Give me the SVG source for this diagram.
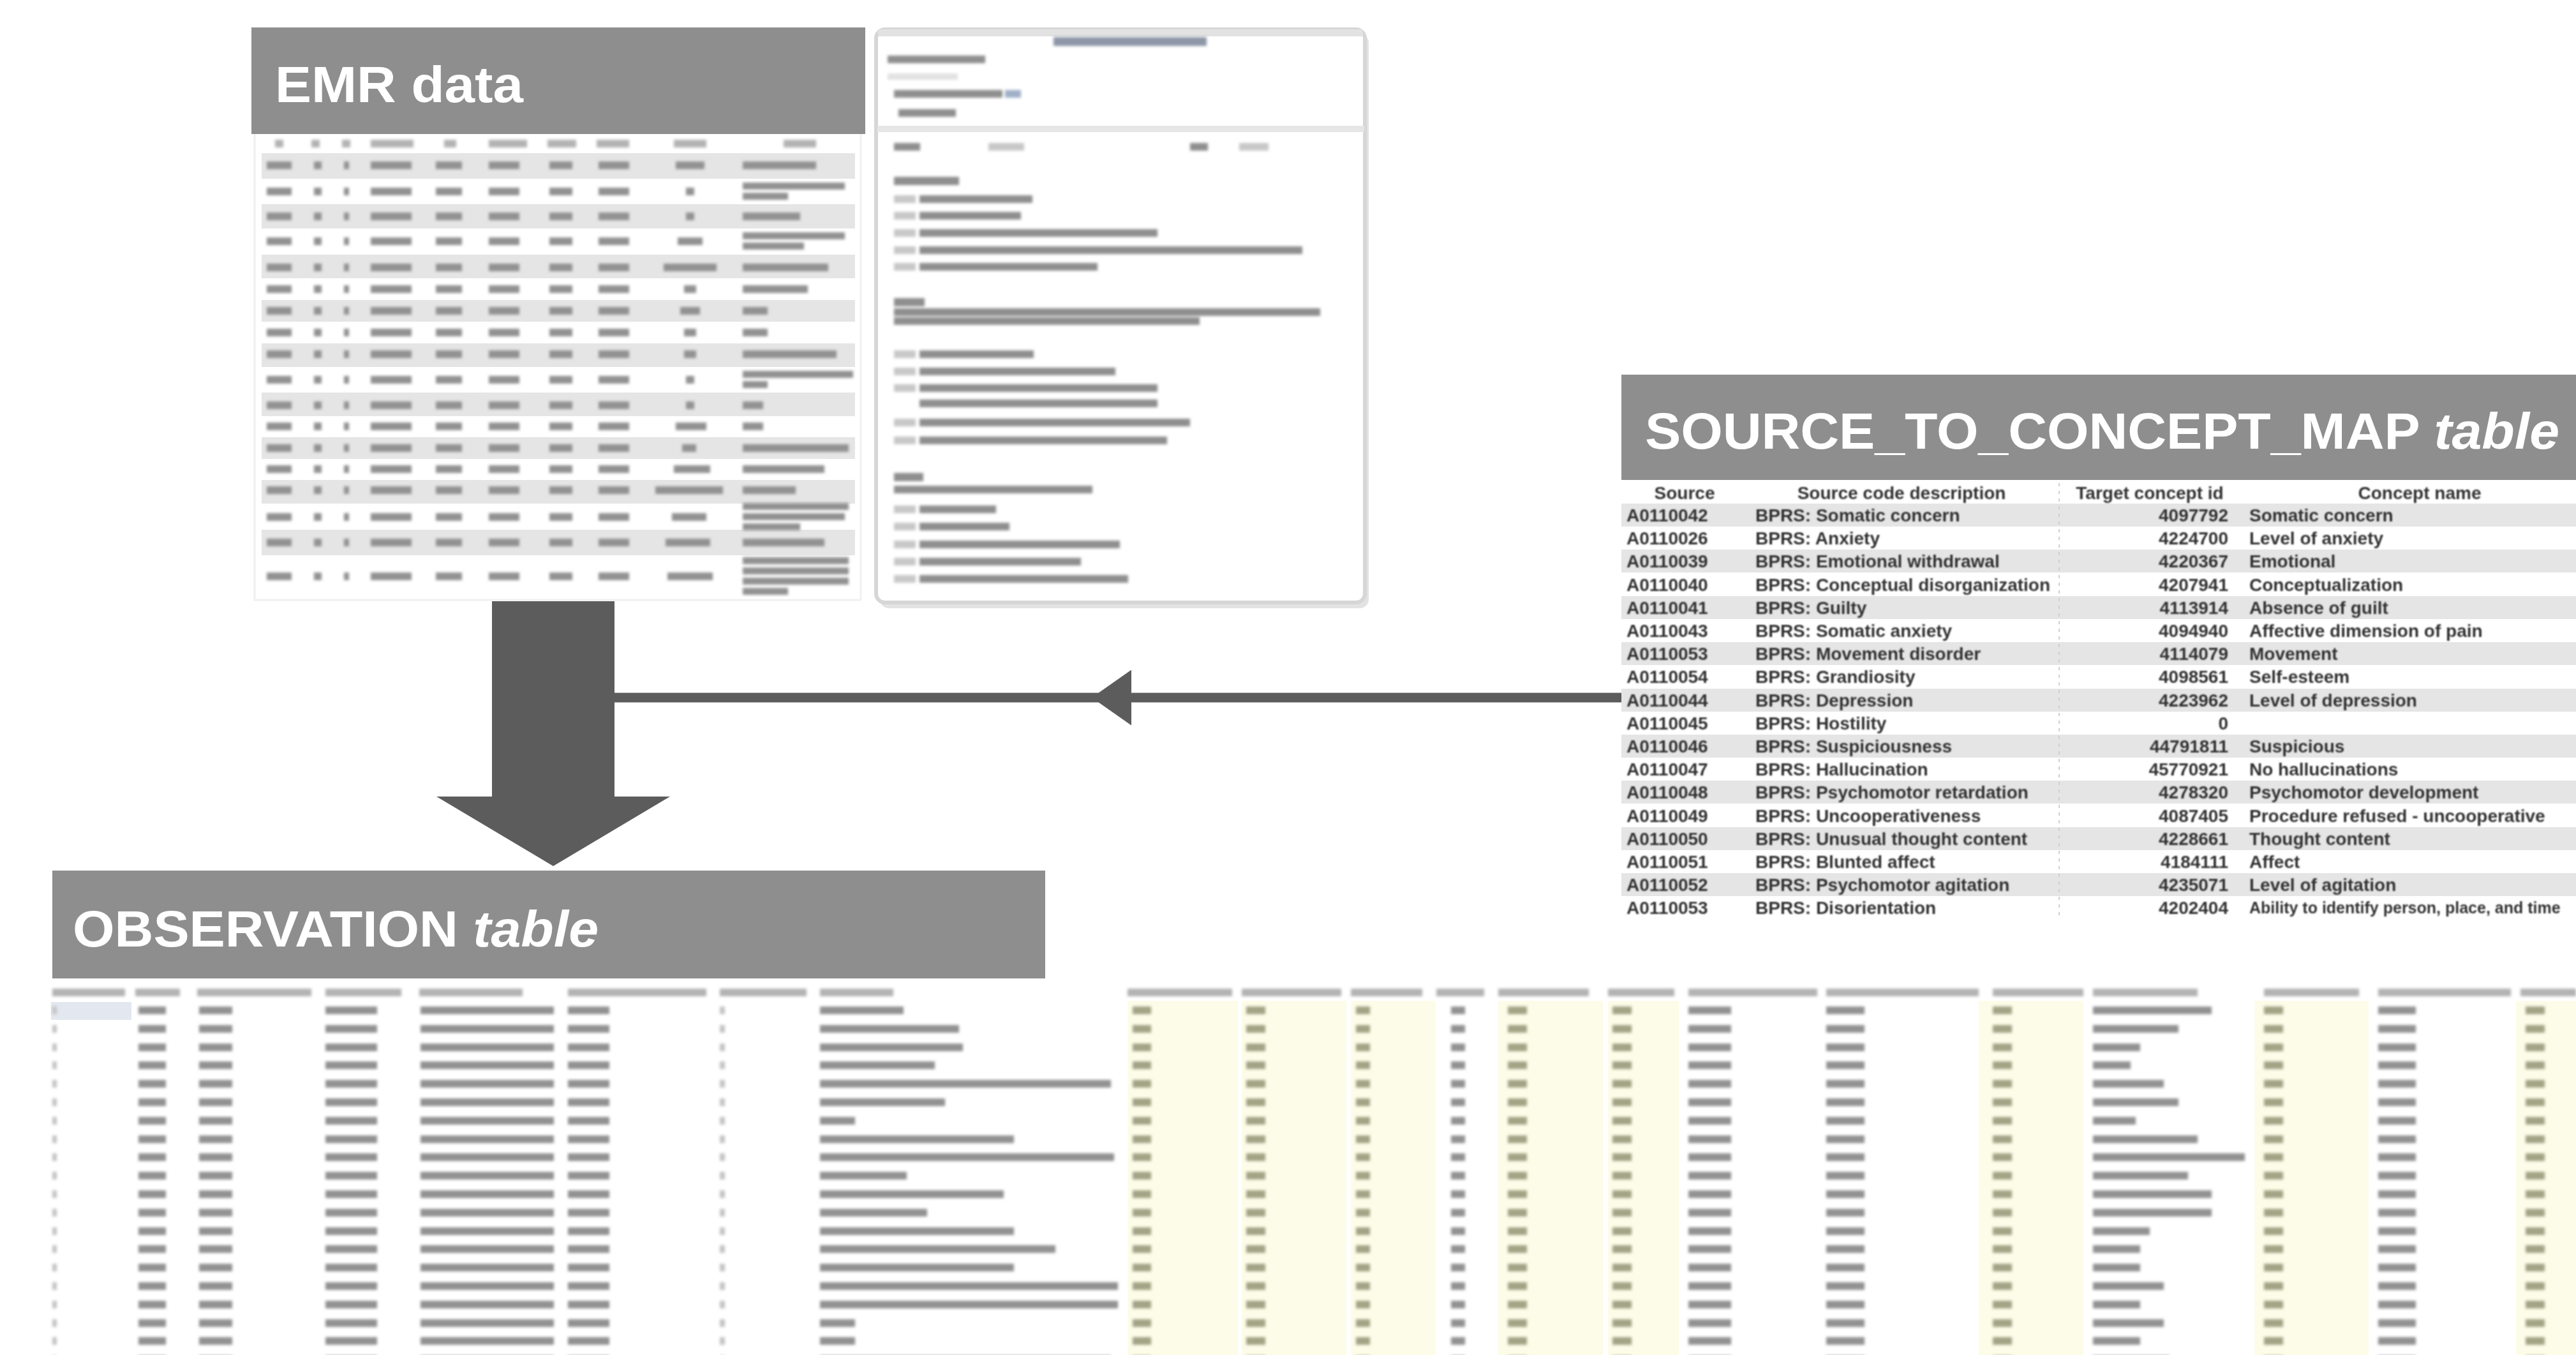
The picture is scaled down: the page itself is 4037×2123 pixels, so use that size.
<svg xmlns="http://www.w3.org/2000/svg" xmlns:xlink="http://www.w3.org/1999/xlink" width="4037" height="2123" viewBox="0 0 4037 2123">
<style>
.hdr{fill:#8e8e8e}
.hdrtxt{font-family:"Liberation Sans",Arial,sans-serif;font-weight:bold;font-size:80px;fill:#ffffff}
.it{font-style:italic}
.band{fill:#e5e5e5}
.lbl{fill:#b3b3b3}
.dat{fill:#929292}
.lt{fill:#c4c4c4}
.olive{fill:#a3a386}
.yel{fill:#fdfce8}
.s2c{font-family:"Liberation Sans",Arial,sans-serif;font-weight:bold;font-size:28px;fill:#333333}
.small{font-size:25px}
.end{text-anchor:end}
.mid{text-anchor:middle}
.doc-d{fill:#8f8f8f}
.doc-l{fill:#c8c8c8}
.conn{fill:#5c5c5c}
</style>
<defs>
<filter id="blur1" x="-2%" y="-10%" width="104%" height="120%"><feGaussianBlur stdDeviation="1"/></filter>
<filter id="blur2" x="-2%" y="-5%" width="104%" height="110%"><feGaussianBlur stdDeviation="2.2"/></filter>
<marker id="arrowMid" viewBox="0 0 62 87" refX="31" refY="43.5" markerWidth="62" markerHeight="87" markerUnits="userSpaceOnUse" orient="auto">
<path d="M0,0 L62,43.5 L0,87 Z" fill="#5c5c5c"/>
</marker>
<g id="emrRow" class="dat">
<rect x="418" y="-6" width="39" height="12"/>
<rect x="492" y="-6" width="12" height="12"/>
<rect x="539" y="-6" width="8" height="12"/>
<rect x="581" y="-6" width="64" height="12"/>
<rect x="683" y="-6" width="41" height="12"/>
<rect x="766" y="-6" width="48" height="12"/>
<rect x="861" y="-6" width="36" height="12"/>
<rect x="938" y="-6" width="48" height="12"/>
</g>
<g id="obsRow">
<rect class="lt" x="82" y="-6" width="7" height="12"/>
<rect class="dat" x="217" y="-6" width="43" height="12"/>
<rect class="dat" x="312" y="-6" width="52" height="12"/>
<rect class="dat" x="510" y="-6" width="81" height="12"/>
<rect class="dat" x="659" y="-6" width="209" height="12"/>
<rect class="dat" x="890" y="-6" width="65" height="12"/>
<rect class="lt" x="1128" y="-6" width="8" height="12"/>
<rect class="olive" x="1775" y="-6" width="29" height="12"/>
<rect class="olive" x="1953" y="-6" width="30" height="12"/>
<rect class="olive" x="2125" y="-6" width="22" height="12"/>
<rect class="dat" x="2274" y="-6" width="22" height="12"/>
<rect class="olive" x="2363" y="-6" width="30" height="12"/>
<rect class="olive" x="2527" y="-6" width="30" height="12"/>
<rect class="dat" x="2646" y="-6" width="67" height="12"/>
<rect class="dat" x="2862" y="-6" width="60" height="12"/>
<rect class="olive" x="3123" y="-6" width="30" height="12"/>
<rect class="olive" x="3548" y="-6" width="30" height="12"/>
<rect class="dat" x="3727" y="-6" width="59" height="12"/>
<rect class="olive" x="3958" y="-6" width="30" height="12"/>
</g>
</defs>
<rect x="0" y="0" width="4037" height="2123" fill="#ffffff"/>

<!-- EMR data table -->
<g id="node-emr-data">
<rect x="399" y="200" width="950" height="740" fill="#ffffff" stroke="#f0f0f0" stroke-width="3"/>
<g class="band">
<rect x="410" y="240" width="930" height="40"/>
<rect x="410" y="320" width="930" height="38"/>
<rect x="410" y="399" width="930" height="37"/>
<rect x="410" y="470" width="930" height="34"/>
<rect x="410" y="538" width="930" height="37"/>
<rect x="410" y="615" width="930" height="37"/>
<rect x="410" y="685" width="930" height="34"/>
<rect x="410" y="752" width="930" height="37"/>
<rect x="410" y="830" width="930" height="40"/>
</g>
<g filter="url(#blur2)">
<g class="lbl">
<rect x="431" y="219" width="13" height="12"/>
<rect x="488" y="219" width="13" height="12"/>
<rect x="536" y="219" width="13" height="12"/>
<rect x="581" y="219" width="67" height="12"/>
<rect x="696" y="219" width="19" height="12"/>
<rect x="766" y="219" width="60" height="12"/>
<rect x="858" y="219" width="45" height="12"/>
<rect x="935" y="219" width="51" height="12"/>
<rect x="1056" y="219" width="51" height="12"/>
<rect x="1228" y="219" width="51" height="12"/>
</g>
<use xlink:href="#emrRow" y="259"/>
<use xlink:href="#emrRow" y="300"/>
<use xlink:href="#emrRow" y="339"/>
<use xlink:href="#emrRow" y="378"/>
<use xlink:href="#emrRow" y="419"/>
<use xlink:href="#emrRow" y="453"/>
<use xlink:href="#emrRow" y="487"/>
<use xlink:href="#emrRow" y="521"/>
<use xlink:href="#emrRow" y="555"/>
<use xlink:href="#emrRow" y="595"/>
<use xlink:href="#emrRow" y="635"/>
<use xlink:href="#emrRow" y="668"/>
<use xlink:href="#emrRow" y="702"/>
<use xlink:href="#emrRow" y="735"/>
<use xlink:href="#emrRow" y="768"/>
<use xlink:href="#emrRow" y="810"/>
<use xlink:href="#emrRow" y="850"/>
<use xlink:href="#emrRow" y="903"/>
<g class="dat">
<rect x="1059" y="253" width="45" height="12"/>
<rect x="1075" y="294" width="13" height="12"/>
<rect x="1075" y="333" width="13" height="12"/>
<rect x="1062" y="372" width="39" height="12"/>
<rect x="1040" y="413" width="83" height="12"/>
<rect x="1072" y="447" width="19" height="12"/>
<rect x="1066" y="481" width="31" height="12"/>
<rect x="1072" y="515" width="19" height="12"/>
<rect x="1072" y="549" width="19" height="12"/>
<rect x="1075" y="589" width="13" height="12"/>
<rect x="1075" y="629" width="13" height="12"/>
<rect x="1059" y="662" width="48" height="12"/>
<rect x="1069" y="696" width="22" height="12"/>
<rect x="1056" y="729" width="57" height="12"/>
<rect x="1027" y="762" width="106" height="12"/>
<rect x="1053" y="804" width="54" height="12"/>
<rect x="1043" y="844" width="70" height="12"/>
<rect x="1046" y="897" width="71" height="12"/>
<rect x="1164" y="253" width="115" height="12"/>
<rect x="1164" y="286" width="160" height="11"/>
<rect x="1164" y="302" width="71" height="11"/>
<rect x="1164" y="333" width="90" height="12"/>
<rect x="1164" y="364" width="160" height="11"/>
<rect x="1164" y="380" width="96" height="11"/>
<rect x="1164" y="413" width="134" height="12"/>
<rect x="1164" y="447" width="102" height="12"/>
<rect x="1164" y="481" width="39" height="12"/>
<rect x="1164" y="515" width="39" height="12"/>
<rect x="1164" y="549" width="147" height="12"/>
<rect x="1164" y="581" width="173" height="11"/>
<rect x="1164" y="597" width="39" height="11"/>
<rect x="1164" y="629" width="32" height="12"/>
<rect x="1164" y="662" width="32" height="12"/>
<rect x="1164" y="696" width="166" height="12"/>
<rect x="1164" y="729" width="128" height="12"/>
<rect x="1164" y="762" width="83" height="12"/>
<rect x="1164" y="788" width="166" height="11"/>
<rect x="1164" y="804" width="160" height="11"/>
<rect x="1164" y="820" width="90" height="11"/>
<rect x="1164" y="844" width="128" height="12"/>
<rect x="1164" y="873" width="166" height="11"/>
<rect x="1164" y="889" width="166" height="11"/>
<rect x="1164" y="905" width="166" height="11"/>
<rect x="1164" y="921" width="71" height="11"/>
</g>
</g>
<rect class="hdr" x="394" y="43" width="962" height="167"/>
<text class="hdrtxt" x="431" y="160" textLength="389" lengthAdjust="spacingAndGlyphs">EMR data</text>
</g>

<!-- EMR document window -->
<g id="node-emr-document">
<rect x="1379" y="53" width="766" height="900" rx="14" fill="#e3e3e3"/>
<rect x="1373" y="46" width="766" height="898" rx="14" fill="#ffffff" stroke="#d6d6d6" stroke-width="6"/>
<rect x="1376" y="46" width="760" height="11" fill="#e2e2e2"/>
<rect x="1375" y="197" width="763" height="10" fill="#e6e6e6"/>
<g filter="url(#blur2)">
<rect x="1651" y="58" width="240" height="14" fill="#8d97a8"/>
<rect class="doc-d" x="1391" y="87" width="153" height="12"/>
<rect x="1391" y="115" width="110" height="10" fill="#e2e2e2"/>
<rect class="doc-d" x="1401" y="141" width="170" height="12"/>
<rect x="1575" y="141" width="25" height="12" fill="#9fb0c8"/>
<rect class="doc-d" x="1408" y="171" width="90" height="12"/>
<rect class="doc-d" x="1401" y="224" width="41" height="12"/>
<rect class="doc-l" x="1549" y="224" width="56" height="12"/>
<rect class="doc-d" x="1865" y="224" width="28" height="12"/>
<rect class="doc-l" x="1942" y="224" width="46" height="12"/>
<rect class="doc-d" x="1401" y="277" width="102" height="13"/>
<rect class="doc-l" x="1401" y="306" width="34" height="12"/><rect class="doc-d" x="1441" y="306" width="177" height="12"/>
<rect class="doc-l" x="1401" y="332" width="34" height="12"/><rect class="doc-d" x="1441" y="332" width="159" height="12"/>
<rect class="doc-l" x="1401" y="359" width="34" height="12"/><rect class="doc-d" x="1441" y="359" width="373" height="12"/>
<rect class="doc-l" x="1401" y="386" width="34" height="12"/><rect class="doc-d" x="1441" y="386" width="600" height="12"/>
<rect class="doc-l" x="1401" y="412" width="34" height="12"/><rect class="doc-d" x="1441" y="412" width="279" height="12"/>
<rect class="doc-d" x="1401" y="467" width="48" height="13"/>
<rect class="doc-d" x="1401" y="483" width="668" height="12"/>
<rect class="doc-d" x="1401" y="497" width="479" height="12"/>
<rect class="doc-l" x="1401" y="549" width="34" height="12"/><rect class="doc-d" x="1441" y="549" width="179" height="12"/>
<rect class="doc-l" x="1401" y="576" width="34" height="12"/><rect class="doc-d" x="1441" y="576" width="307" height="12"/>
<rect class="doc-l" x="1401" y="602" width="34" height="12"/><rect class="doc-d" x="1441" y="602" width="373" height="12"/>
<rect class="doc-d" x="1441" y="626" width="373" height="12"/>
<rect class="doc-l" x="1401" y="656" width="34" height="12"/><rect class="doc-d" x="1441" y="656" width="424" height="12"/>
<rect class="doc-l" x="1401" y="684" width="34" height="12"/><rect class="doc-d" x="1441" y="684" width="388" height="12"/>
<rect class="doc-d" x="1401" y="741" width="46" height="13"/>
<rect class="doc-d" x="1401" y="761" width="311" height="12"/>
<rect class="doc-l" x="1401" y="792" width="34" height="12"/><rect class="doc-d" x="1441" y="792" width="120" height="12"/>
<rect class="doc-l" x="1401" y="819" width="34" height="12"/><rect class="doc-d" x="1441" y="819" width="141" height="12"/>
<rect class="doc-l" x="1401" y="847" width="34" height="12"/><rect class="doc-d" x="1441" y="847" width="314" height="12"/>
<rect class="doc-l" x="1401" y="874" width="34" height="12"/><rect class="doc-d" x="1441" y="874" width="253" height="12"/>
<rect class="doc-l" x="1401" y="901" width="34" height="12"/><rect class="doc-d" x="1441" y="901" width="327" height="12"/>
</g>
</g>

<!-- SOURCE_TO_CONCEPT_MAP table -->
<g id="node-source-to-concept-map">
<rect x="2541" y="752" width="1496" height="690" fill="#ffffff"/>
<g class="band">
<rect x="2541" y="789" width="1496" height="36"/>
<rect x="2541" y="861" width="1496" height="36"/>
<rect x="2541" y="934" width="1496" height="36"/>
<rect x="2541" y="1006" width="1496" height="36"/>
<rect x="2541" y="1079" width="1496" height="36"/>
<rect x="2541" y="1151" width="1496" height="36"/>
<rect x="2541" y="1223" width="1496" height="36"/>
<rect x="2541" y="1296" width="1496" height="36"/>
<rect x="2541" y="1368" width="1496" height="36"/>
</g>
<line x1="3227" y1="757" x2="3227" y2="1440" stroke="#cfcfcf" stroke-width="2" stroke-dasharray="5 7"/>
<g filter="url(#blur1)">
<text class="s2c mid" x="2640" y="782">Source</text>
<text class="s2c mid" x="2980" y="782">Source code description</text>
<text class="s2c mid" x="3369" y="782">Target concept id</text>
<text class="s2c mid" x="3792" y="782">Concept name</text>

<text class="s2c" x="2549" y="817">A0110042</text><text class="s2c" x="2751" y="817">BPRS: Somatic concern</text><text class="s2c end" x="3492" y="817">4097792</text><text class="s2c" x="3525" y="817">Somatic concern</text>
<text class="s2c" x="2549" y="853">A0110026</text><text class="s2c" x="2751" y="853">BPRS: Anxiety</text><text class="s2c end" x="3492" y="853">4224700</text><text class="s2c" x="3525" y="853">Level of anxiety</text>
<text class="s2c" x="2549" y="889">A0110039</text><text class="s2c" x="2751" y="889">BPRS: Emotional withdrawal</text><text class="s2c end" x="3492" y="889">4220367</text><text class="s2c" x="3525" y="889">Emotional</text>
<text class="s2c" x="2549" y="926">A0110040</text><text class="s2c" x="2751" y="926">BPRS: Conceptual disorganization</text><text class="s2c end" x="3492" y="926">4207941</text><text class="s2c" x="3525" y="926">Conceptualization</text>
<text class="s2c" x="2549" y="962">A0110041</text><text class="s2c" x="2751" y="962">BPRS: Guilty</text><text class="s2c end" x="3492" y="962">4113914</text><text class="s2c" x="3525" y="962">Absence of guilt</text>
<text class="s2c" x="2549" y="998">A0110043</text><text class="s2c" x="2751" y="998">BPRS: Somatic anxiety</text><text class="s2c end" x="3492" y="998">4094940</text><text class="s2c" x="3525" y="998">Affective dimension of pain</text>
<text class="s2c" x="2549" y="1034">A0110053</text><text class="s2c" x="2751" y="1034">BPRS: Movement disorder</text><text class="s2c end" x="3492" y="1034">4114079</text><text class="s2c" x="3525" y="1034">Movement</text>
<text class="s2c" x="2549" y="1070">A0110054</text><text class="s2c" x="2751" y="1070">BPRS: Grandiosity</text><text class="s2c end" x="3492" y="1070">4098561</text><text class="s2c" x="3525" y="1070">Self-esteem</text>
<text class="s2c" x="2549" y="1107">A0110044</text><text class="s2c" x="2751" y="1107">BPRS: Depression</text><text class="s2c end" x="3492" y="1107">4223962</text><text class="s2c" x="3525" y="1107">Level of depression</text>
<text class="s2c" x="2549" y="1143">A0110045</text><text class="s2c" x="2751" y="1143">BPRS: Hostility</text><text class="s2c end" x="3492" y="1143">0</text>
<text class="s2c" x="2549" y="1179">A0110046</text><text class="s2c" x="2751" y="1179">BPRS: Suspiciousness</text><text class="s2c end" x="3492" y="1179">44791811</text><text class="s2c" x="3525" y="1179">Suspicious</text>
<text class="s2c" x="2549" y="1215">A0110047</text><text class="s2c" x="2751" y="1215">BPRS: Hallucination</text><text class="s2c end" x="3492" y="1215">45770921</text><text class="s2c" x="3525" y="1215">No hallucinations</text>
<text class="s2c" x="2549" y="1251">A0110048</text><text class="s2c" x="2751" y="1251">BPRS: Psychomotor retardation</text><text class="s2c end" x="3492" y="1251">4278320</text><text class="s2c" x="3525" y="1251">Psychomotor development</text>
<text class="s2c" x="2549" y="1288">A0110049</text><text class="s2c" x="2751" y="1288">BPRS: Uncooperativeness</text><text class="s2c end" x="3492" y="1288">4087405</text><text class="s2c" x="3525" y="1288">Procedure refused - uncooperative</text>
<text class="s2c" x="2549" y="1324">A0110050</text><text class="s2c" x="2751" y="1324">BPRS: Unusual thought content</text><text class="s2c end" x="3492" y="1324">4228661</text><text class="s2c" x="3525" y="1324">Thought content</text>
<text class="s2c" x="2549" y="1360">A0110051</text><text class="s2c" x="2751" y="1360">BPRS: Blunted affect</text><text class="s2c end" x="3492" y="1360">4184111</text><text class="s2c" x="3525" y="1360">Affect</text>
<text class="s2c" x="2549" y="1396">A0110052</text><text class="s2c" x="2751" y="1396">BPRS: Psychomotor agitation</text><text class="s2c end" x="3492" y="1396">4235071</text><text class="s2c" x="3525" y="1396">Level of agitation</text>
<text class="s2c" x="2549" y="1432">A0110053</text><text class="s2c" x="2751" y="1432">BPRS: Disorientation</text><text class="s2c end" x="3492" y="1432">4202404</text><text class="s2c small" x="3525" y="1431">Ability to identify person, place, and time</text>
</g>
<rect class="hdr" x="2541" y="587" width="1496" height="165"/>
<text class="hdrtxt" x="2578" y="703" textLength="1433" lengthAdjust="spacingAndGlyphs">SOURCE_TO_CONCEPT_MAP <tspan class="it">table</tspan></text>
</g>

<!-- OBSERVATION table -->
<g id="node-observation">
<g class="yel">
<rect x="1767" y="1568" width="173" height="555"/>
<rect x="1946" y="1568" width="164" height="555"/>
<rect x="2117" y="1568" width="133" height="555"/>
<rect x="2348" y="1568" width="164" height="555"/>
<rect x="2520" y="1568" width="111" height="555"/>
<rect x="3101" y="1568" width="164" height="555"/>
<rect x="3533" y="1568" width="179" height="555"/>
<rect x="3943" y="1568" width="94" height="555"/>
</g>
<rect x="80" y="1570" width="126" height="28" fill="#e3e7ef"/>
<g filter="url(#blur2)">
<g class="lbl">
<rect x="82" y="1549" width="114" height="12"/>
<rect x="212" y="1549" width="70" height="12"/>
<rect x="309" y="1549" width="179" height="12"/>
<rect x="510" y="1549" width="119" height="12"/>
<rect x="657" y="1549" width="162" height="12"/>
<rect x="890" y="1549" width="217" height="12"/>
<rect x="1128" y="1549" width="136" height="12"/>
<rect x="1285" y="1549" width="115" height="12"/>
<rect x="1767" y="1549" width="164" height="12"/>
<rect x="1946" y="1549" width="156" height="12"/>
<rect x="2117" y="1549" width="112" height="12"/>
<rect x="2251" y="1549" width="75" height="12"/>
<rect x="2348" y="1549" width="142" height="12"/>
<rect x="2520" y="1549" width="104" height="12"/>
<rect x="2646" y="1549" width="202" height="12"/>
<rect x="2862" y="1549" width="239" height="12"/>
<rect x="3123" y="1549" width="142" height="12"/>
<rect x="3280" y="1549" width="164" height="12"/>
<rect x="3548" y="1549" width="149" height="12"/>
<rect x="3727" y="1549" width="208" height="12"/>
<rect x="3950" y="1549" width="87" height="12"/>
</g>
<use xlink:href="#obsRow" y="1583"/>
<use xlink:href="#obsRow" y="1612"/>
<use xlink:href="#obsRow" y="1641"/>
<use xlink:href="#obsRow" y="1669"/>
<use xlink:href="#obsRow" y="1698"/>
<use xlink:href="#obsRow" y="1727"/>
<use xlink:href="#obsRow" y="1756"/>
<use xlink:href="#obsRow" y="1785"/>
<use xlink:href="#obsRow" y="1813"/>
<use xlink:href="#obsRow" y="1842"/>
<use xlink:href="#obsRow" y="1871"/>
<use xlink:href="#obsRow" y="1900"/>
<use xlink:href="#obsRow" y="1929"/>
<use xlink:href="#obsRow" y="1957"/>
<use xlink:href="#obsRow" y="1986"/>
<use xlink:href="#obsRow" y="2015"/>
<use xlink:href="#obsRow" y="2044"/>
<use xlink:href="#obsRow" y="2073"/>
<use xlink:href="#obsRow" y="2101"/>
<use xlink:href="#obsRow" y="2130"/>
<g class="dat">
<rect x="1285" y="1577" width="131" height="12"/>
<rect x="1285" y="1606" width="218" height="12"/>
<rect x="1285" y="1635" width="224" height="12"/>
<rect x="1285" y="1663" width="180" height="12"/>
<rect x="1285" y="1692" width="456" height="12"/>
<rect x="1285" y="1721" width="196" height="12"/>
<rect x="1285" y="1750" width="55" height="12"/>
<rect x="1285" y="1779" width="304" height="12"/>
<rect x="1285" y="1807" width="461" height="12"/>
<rect x="1285" y="1836" width="136" height="12"/>
<rect x="1285" y="1865" width="288" height="12"/>
<rect x="1285" y="1894" width="168" height="12"/>
<rect x="1285" y="1923" width="304" height="12"/>
<rect x="1285" y="1951" width="369" height="12"/>
<rect x="1285" y="1980" width="304" height="12"/>
<rect x="1285" y="2009" width="467" height="12"/>
<rect x="1285" y="2038" width="467" height="12"/>
<rect x="1285" y="2067" width="55" height="12"/>
<rect x="1285" y="2095" width="55" height="12"/>
<rect x="1285" y="2124" width="456" height="12"/>
<rect x="3280" y="1577" width="186" height="12"/>
<rect x="3280" y="1606" width="134" height="12"/>
<rect x="3280" y="1635" width="74" height="12"/>
<rect x="3280" y="1663" width="59" height="12"/>
<rect x="3280" y="1692" width="111" height="12"/>
<rect x="3280" y="1721" width="134" height="12"/>
<rect x="3280" y="1750" width="67" height="12"/>
<rect x="3280" y="1779" width="164" height="12"/>
<rect x="3280" y="1807" width="238" height="12"/>
<rect x="3280" y="1836" width="149" height="12"/>
<rect x="3280" y="1865" width="186" height="12"/>
<rect x="3280" y="1894" width="186" height="12"/>
<rect x="3280" y="1923" width="89" height="12"/>
<rect x="3280" y="1951" width="74" height="12"/>
<rect x="3280" y="1980" width="74" height="12"/>
<rect x="3280" y="2009" width="111" height="12"/>
<rect x="3280" y="2038" width="74" height="12"/>
<rect x="3280" y="2067" width="111" height="12"/>
<rect x="3280" y="2095" width="74" height="12"/>
<rect x="3280" y="2124" width="120" height="12"/>
</g>
</g>
<rect class="hdr" x="82" y="1364" width="1556" height="169"/>
<text class="hdrtxt" x="114" y="1483" textLength="824" lengthAdjust="spacingAndGlyphs">OBSERVATION <tspan class="it">table</tspan></text>
</g>

<!-- Connectors -->
<g id="connectors">
<polygon class="conn" points="771,942 963,942 963,1248 1050,1248 867,1357 684,1248 771,1248"/>
<path d="M2541,1093 L1742,1093 L963,1093" fill="none" stroke="#5c5c5c" stroke-width="15" marker-mid="url(#arrowMid)"/>
</g>
</svg>
